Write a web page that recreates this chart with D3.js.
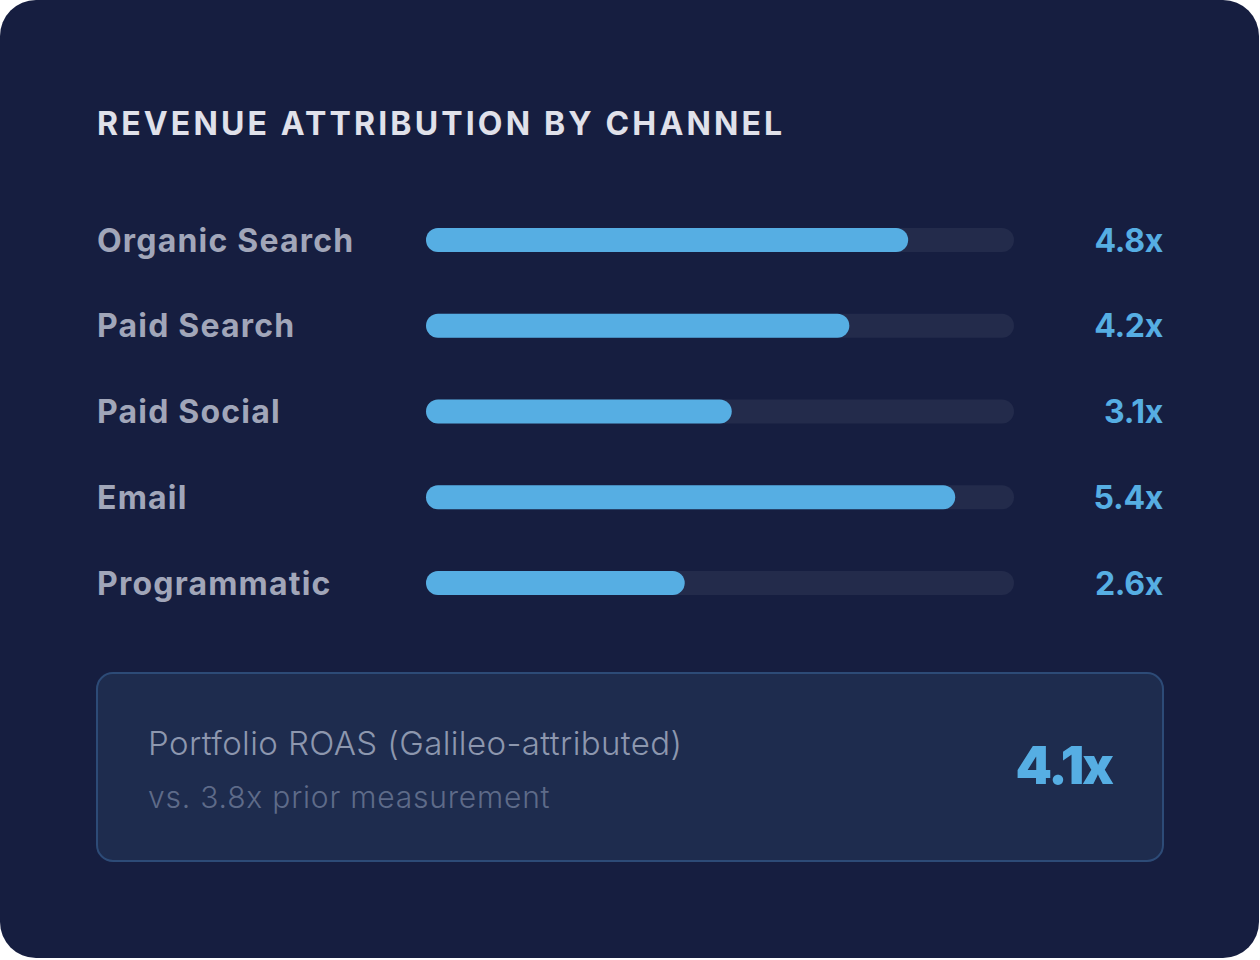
<!DOCTYPE html>
<html>
<head>
<meta charset="utf-8">
<script src="https://cdn.jsdelivr.net/npm/d3@7"></script>
<style>
  html, body { margin: 0; padding: 0; background: #ffffff; }
  svg { display: block; }
</style>
</head>
<body>
<svg id="chart" width="1260" height="960"></svg>
<script>
// channel data
const channels = ['Organic Search', 'Paid Search', 'Paid Social', 'Email', 'Programmatic'];
const roas = [4.8, 4.2, 3.1, 5.4, 2.6];
// bar fill (% of track) as drawn in the reference
const fillPct = [82, 72, 52, 90, 44];

const title = 'REVENUE ATTRIBUTION BY CHANNEL';
const summaryLabel = 'Portfolio ROAS (Galileo-attributed)';
const summaryNote = 'vs. 3.8x prior measurement';
const portfolioRoas = 4.1;

const fmt = d => d3.format('.1f')(d) + 'x';

const svg = d3.select('#chart');

// card
svg.append('rect')
  .attr('x', 0).attr('y', 0)
  .attr('width', 1259).attr('height', 958)
  .attr('rx', 36)
  .attr('fill', '#161e40');

svg.append('text')
  .attr('x', 97).attr('y', 135)
  .attr('fill', '#e0e1ea')
  .style('font-family', 'Inter, sans-serif')
  .style('font-weight', 700)
  .style('font-size', '32px')
  .style('letter-spacing', '3.15px')
  .text(title);

const rows = channels.map((c, i) => ({ channel: c, value: roas[i], pct: fillPct[i] }));

const y = d3.scalePoint().domain(channels).range([240, 583]);
const x = d3.scaleLinear().domain([0, 100]).range([426, 1014]);
const barH = 24;

const g = svg.selectAll('.row')
  .data(rows)
  .enter().append('g')
  .attr('class', 'row')
  .attr('transform', d => `translate(0,${y(d.channel)})`);

g.append('text')
  .attr('x', 97).attr('dy', '0.36em')
  .attr('fill', '#a1a6b9')
  .style('font-family', 'Inter, sans-serif')
  .style('font-weight', 700)
  .style('font-size', '32px')
  .style('letter-spacing', '1.2px')
  .text(d => d.channel);

// track
g.append('rect')
  .attr('x', x(0)).attr('y', -barH / 2)
  .attr('width', x(100) - x(0)).attr('height', barH)
  .attr('rx', barH / 2)
  .attr('fill', '#232b4b');

// fill
g.append('rect')
  .attr('x', x(0)).attr('y', -barH / 2)
  .attr('width', d => x(d.pct) - x(0)).attr('height', barH)
  .attr('rx', barH / 2)
  .attr('fill', '#56aee3');

g.append('text')
  .attr('x', 1163).attr('dy', '0.36em')
  .attr('text-anchor', 'end')
  .attr('fill', '#56aee3')
  .style('font-family', 'Inter, sans-serif')
  .style('font-weight', 700)
  .style('font-size', '32px')
  .style('letter-spacing', '-0.3px')
  .text(d => fmt(d.value));

// summary box
const box = svg.append('g');
box.append('rect')
  .attr('x', 97).attr('y', 673)
  .attr('width', 1066).attr('height', 188)
  .attr('rx', 16)
  .attr('fill', '#1e2c4e')
  .attr('stroke', '#2d4b77')
  .attr('stroke-width', 2);

box.append('text')
  .attr('x', 148).attr('y', 755)
  .attr('fill', '#8d97ae')
  .style('font-family', 'Inter, sans-serif')
  .style('font-weight', 300)
  .style('font-size', '33px')
  .style('letter-spacing', '0.4px')
  .text(summaryLabel);

box.append('text')
  .attr('x', 148).attr('y', 808)
  .attr('fill', '#5e6b89')
  .style('font-family', 'Inter, sans-serif')
  .style('font-weight', 300)
  .style('font-size', '30px')
  .style('letter-spacing', '0.8px')
  .text(summaryNote);

box.append('text')
  .attr('x', 1112).attr('y', 784)
  .attr('text-anchor', 'end')
  .attr('fill', '#56aee3')
  .style('font-family', 'Inter, sans-serif')
  .style('font-weight', 900)
  .style('font-size', '52px')
  .style('letter-spacing', '-2px')
  .text(fmt(portfolioRoas));
</script>
</body>
</html>
